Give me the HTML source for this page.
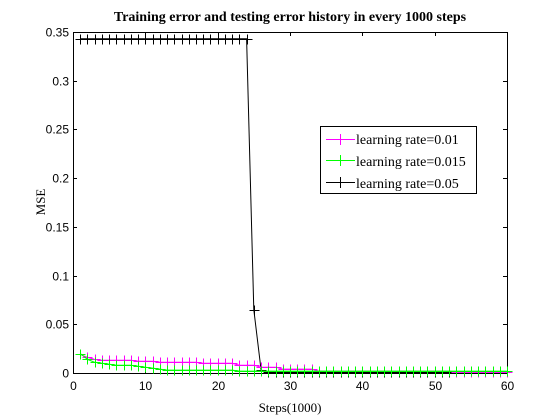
<!DOCTYPE html>
<html><head><meta charset="utf-8"><style>
body{margin:0;background:#fff;width:560px;height:420px;overflow:hidden}
svg{display:block}
.tk{font-family:"Liberation Sans",sans-serif;font-size:12px}
.sr{font-family:"Liberation Serif",serif;font-size:13px}
.lg{font-family:"Liberation Serif",serif;font-size:14px}
line,path,polyline,rect{shape-rendering:crispEdges}
</style></head><body>
<svg id="chart" width="560" height="420">
<rect width="560" height="420" fill="#fff"/>
<text x="290" y="21" text-anchor="middle" font-weight="bold" font-family="Liberation Serif, serif" font-size="14">Training error and testing error history in every 1000 steps</text>
<text class="sr" x="290" y="412" text-anchor="middle">Steps(1000)</text>
<text class="sr" x="0" y="0" transform="translate(45,202) rotate(-90)" text-anchor="middle">MSE</text>
<g id="plot"></g>
<g>
<rect x="320.5" y="126.5" width="156" height="67" fill="#fff" stroke="#000"/>
<g><line x1="326" x2="355" y1="139.5" y2="139.5" stroke="#f0f"/><line x1="340.5" x2="340.5" y1="134" y2="145" stroke="#f0f"/><text class="lg" x="356" y="144">learning rate=0.01</text></g>
<g><line x1="326" x2="355" y1="160.5" y2="160.5" stroke="#0f0"/><line x1="340.5" x2="340.5" y1="155" y2="166" stroke="#0f0"/><text class="lg" x="356" y="166">learning rate=0.015</text></g>
<g><line x1="326" x2="355" y1="182.5" y2="182.5" stroke="#000"/><line x1="340.5" x2="340.5" y1="177" y2="188" stroke="#000"/><text class="lg" x="356" y="188">learning rate=0.05</text></g>
</g>
</svg>
<script>
const xTicks=[0,10,20,30,40,50,60];
const yTicks=[0,0.05,0.1,0.15,0.2,0.25,0.3,0.35];
const yTickLabels=["0","0.05","0.1","0.15","0.2","0.25","0.3","0.35"];
const steps=[1,2,3,4,5,6,7,8,9,10,11,12,13,14,15,16,17,18,19,20,21,22,23,24,25,26,27,28,29,30,31,32,33,34,35,36,37,38,39,40,41,42,43,44,45,46,47,48,49,50,51,52,53,54,55,56,57,58,59,60];
const rate001=[0.019,0.016,0.014,0.013,0.013,0.013,0.013,0.013,0.012,0.012,0.012,0.011,0.011,0.011,0.011,0.011,0.011,0.010,0.010,0.010,0.010,0.010,0.008,0.008,0.008,0.006,0.006,0.006,0.004,0.004,0.004,0.004,0.004,0.002,0.002,0.002,0.002,0.002,0.002,0.002,0.002,0.002,0.002,0.002,0.002,0.002,0.002,0.002,0.002,0.002,0.002,0.002,0.001,0.001,0.001,0.001,0.001,0.001,0.001,0.001];
const rate0015=[0.020,0.014,0.011,0.010,0.009,0.008,0.008,0.008,0.007,0.006,0.005,0.004,0.003,0.003,0.003,0.003,0.003,0.003,0.003,0.003,0.003,0.003,0.002,0.002,0.002,0.002,0.002,0.002,0.002,0.002,0.002,0.002,0.002,0.002,0.002,0.002,0.002,0.002,0.002,0.002,0.002,0.002,0.002,0.002,0.002,0.002,0.002,0.002,0.002,0.002,0.002,0.002,0.002,0.002,0.002,0.002,0.002,0.002,0.002,0.002];
const rate005=[0.343,0.343,0.343,0.343,0.343,0.343,0.343,0.343,0.343,0.343,0.343,0.343,0.343,0.343,0.343,0.343,0.343,0.343,0.343,0.343,0.343,0.343,0.343,0.343,0.065,0.003,0.001,0.001,0.001,0.001,0.001,0.001,0.001,0.001,0.001,0.001,0.001,0.001,0.001,0.001,0.001,0.001,0.001,0.001,0.001,0.001,0.001,0.001,0.001,0.001,0.001,0.001,0.001,0.001,0.001,0.001,0.001,0.001,0.001,0.001];
const L=73,R=507,T=32,B=373;
const xs=v=>L+(v-0)/(60-0)*(R-L);
const ys=v=>B-(v/0.35)*(B-T);
const NS='http://www.w3.org/2000/svg';
const g=document.getElementById('plot');
function mk(tag,attrs,parent){const e=document.createElementNS(NS,tag);for(const k in attrs)e.setAttribute(k,attrs[k]);(parent||g).appendChild(e);return e;}
const frame=mk('rect',{x:L+0.5,y:T+0.5,width:R-L,height:B-T,fill:'none',stroke:'#000'});


xTicks.forEach(t=>{
  const x=Math.round(xs(t))+0.5;
  mk('line',{x1:x,x2:x,y1:B,y2:B-4,stroke:'#000'});
  mk('line',{x1:x,x2:x,y1:T,y2:T+4,stroke:'#000'});
  const tx=mk('text',{x:x,y:B+17,'text-anchor':'middle',class:'tk'});
  tx.textContent=t;
  
  
});
yTicks.forEach((t,i)=>{
  const y=Math.round(ys(t))+0.5;
  mk('line',{x1:L,x2:L+4,y1:y,y2:y,stroke:'#000'});
  mk('line',{x1:R,x2:R-4,y1:y,y2:y,stroke:'#000'});
  const tx=mk('text',{x:L-4,y:y+4,'text-anchor':'end',class:'tk'});
  tx.textContent=yTickLabels[i];
  
  
});
function series(vals,color,name){
  const grp=mk('g',{});
  
  
  const pts=steps.map((s,i)=>xs(s).toFixed(1)+','+ys(vals[i]).toFixed(1)).join(' ');
  mk('polyline',{points:pts,fill:'none',stroke:color,'stroke-width':1,style:'shape-rendering:auto'},grp);
  steps.forEach((s,i)=>{
    const x=Math.round(xs(s))+0.5,y=Math.round(ys(vals[i]))+0.5;
    const m=mk('path',{d:`M${x-5},${y}H${x+5}M${x},${y-5}V${y+5}`,stroke:color,'stroke-width':1},grp);
    
    
  });
}
series(rate005,'#000','series-rate-0.05');
series(rate001,'#f0f','series-rate-0.01');
series(rate0015,'#0f0','series-rate-0.015');
</script>
</body></html>
